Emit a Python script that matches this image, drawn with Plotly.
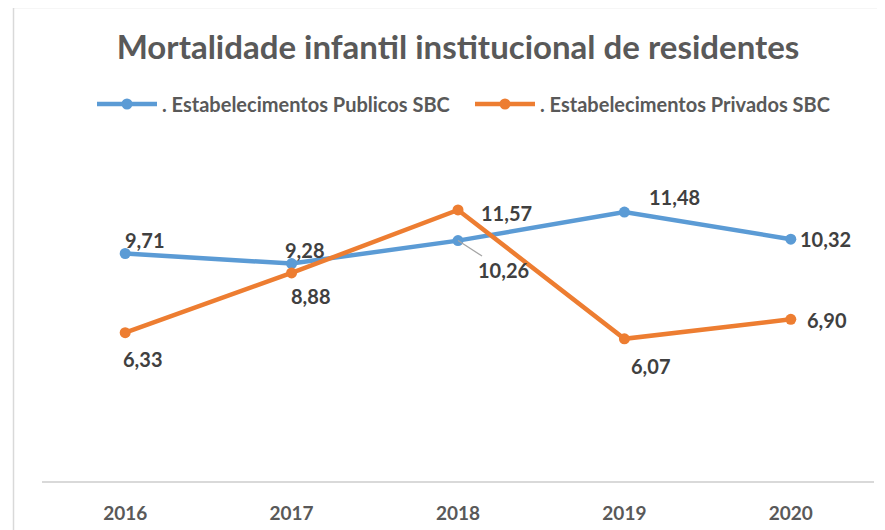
import plotly.graph_objects as go

years = ["2016", "2017", "2018", "2019", "2020"]
publicos = [9.71, 9.28, 10.26, 11.48, 10.32]
privados = [6.33, 8.88, 11.57, 6.07, 6.90]
name_pub = ". Estabelecimentos Publicos SBC"
name_priv = ". Estabelecimentos Privados SBC"
title_text = "Mortalidade infantil institucional de residentes"

# label offsets in pixels (dx, dy with dy positive downward)
pub_off = [(19, -14), (13, -14), (45, 29), (50, -15), (35, 0)]
priv_off = [(17, 26), (19, 23), (48, 3), (26, 27), (36, 1)]

BLUE = "#5B9BD5"
ORANGE = "#ED7D31"
FONT = "Lato"
OFF = 8  # page body margin compensation

W, H = 885 - OFF, 530 - OFF
L = 42 - OFF
T = 153 - OFF
PW = 874 - 42
PH = 481 - 153
R = W - L - PW
B = H - T - PH

fig = go.Figure()
fig.add_trace(go.Scatter(x=years, y=publicos, mode="lines+markers", name=name_pub,
                         line=dict(color=BLUE, width=4.5), marker=dict(size=11, color=BLUE)))
fig.add_trace(go.Scatter(x=years, y=privados, mode="lines+markers", name=name_priv,
                         line=dict(color=ORANGE, width=4.5), marker=dict(size=11, color=ORANGE)))

def fmt(v):
    return "<b>" + f"{v:.2f}".replace(".", ",") + "</b>"

lab_font = dict(family=FONT, size=20, color="#404040")
ann = []
for series, vals, offs in (("pub", publicos, pub_off), ("priv", privados, priv_off)):
    for i, (v, (dx, dy)) in enumerate(zip(vals, offs)):
        if series == "pub" and years[i] == "2018":
            ann.append(dict(x=i, y=v, xref="x", yref="y", text=fmt(v), showarrow=True, arrowhead=0,
                            arrowcolor="#a6a6a6", arrowwidth=1.2, ax=dx, ay=dy,
                            font=lab_font))
        else:
            ann.append(dict(x=i, y=v, xref="x", yref="y", text=fmt(v), showarrow=False,
                            xshift=dx, yshift=-dy, font=lab_font))

fig.update_layout(
    width=W, height=H,
    margin=dict(l=L, r=R, t=T, b=B, autoexpand=False),
    paper_bgcolor="white", plot_bgcolor="white",
    title=dict(text="<b>" + title_text + "</b>", x=(458 - OFF) / W, xanchor="center",
               y=1 - (47 - OFF) / H, yanchor="middle", yref="container",
               font=dict(family=FONT, size=33, color="#595959")),
    legend=dict(orientation="h", x=(92 - 42) / PW, xanchor="left", y=(481 - 104) / PH,
                yanchor="middle",
                font=dict(family=FONT, size=20, color="#595959", weight=700),
                itemwidth=60, entrywidth=303, traceorder="normal"),
    xaxis=dict(type="category", range=[-0.5, 4.5], showgrid=False, zeroline=False,
               showline=True, linecolor="#d9d9d9", linewidth=2, ticks="",
               ticklabelstandoff=14,
               tickfont=dict(family=FONT, size=19, color="#595959", weight=700)),
    yaxis=dict(range=[0, 14], visible=False, showgrid=False, zeroline=False),
    annotations=ann,
    shapes=[dict(type="rect", xref="paper", yref="paper",
                 x0=(13.5 - 42) / PW, x1=(895 - 42) / PW,
                 y0=(481 - 540) / PH, y1=(481 - 7.5) / PH,
                 line=dict(color="#d9d9d9", width=1.5), layer="below")],
)

fig.write_html("out.html")
